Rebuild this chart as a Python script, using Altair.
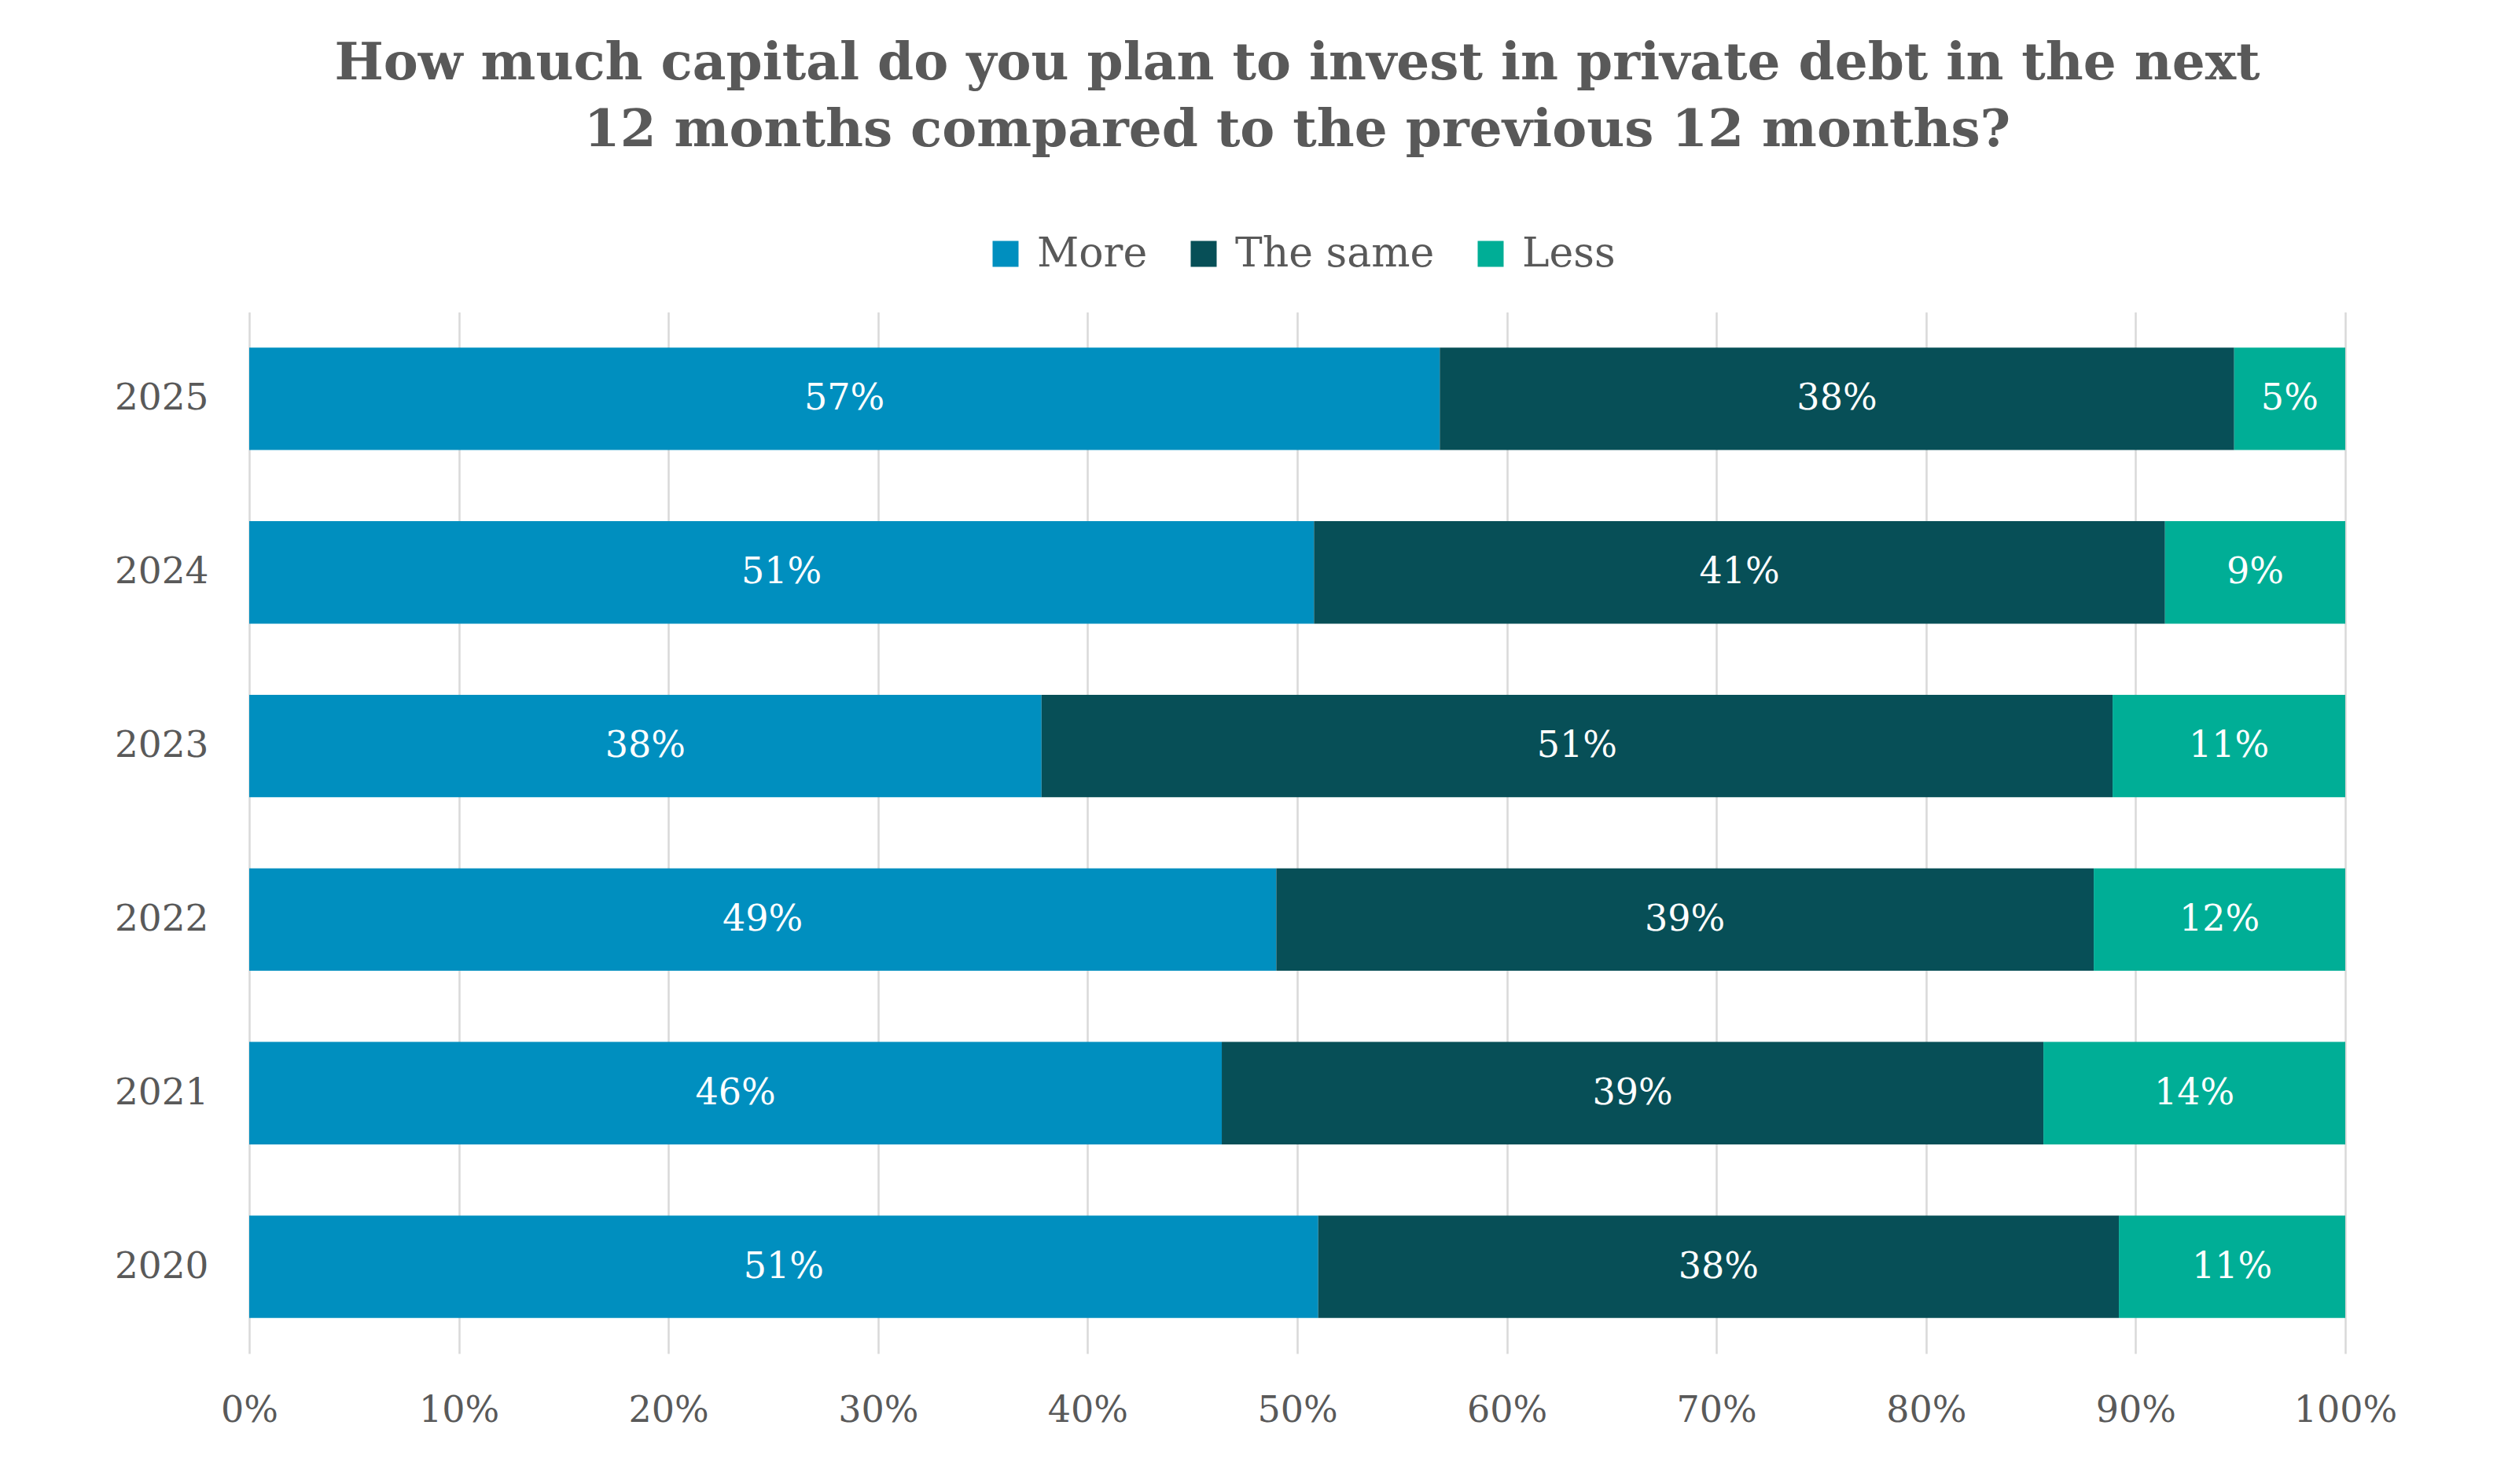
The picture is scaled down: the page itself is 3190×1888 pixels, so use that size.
import altair as alt
import pandas as pd

years = ["2025", "2024", "2023", "2022", "2021", "2020"]
categories = ["More", "The same", "Less"]
more = [56.8, 50.8, 37.8, 49.0, 46.4, 51.0]
same = [37.9, 40.6, 51.1, 39.0, 39.2, 38.2]
less = [5.3, 8.6, 11.1, 12.0, 14.4, 10.8]
x_ticks = [0, 10, 20, 30, 40, 50, 60, 70, 80, 90, 100]
colors = ["#008FBF", "#074F57", "#00AE96"]
title_lines = [
    "How much capital do you plan to invest in private debt in the next",
    "12 months compared to the previous 12 months?",
]

FONT = "DejaVu Serif"
GREY = "#595959"

rows = []
for i, y in enumerate(years):
    for j, (cat, series) in enumerate(zip(categories, [more, same, less])):
        rows.append({"year": y, "category": cat, "value": series[i], "ord": j})
df = pd.DataFrame(rows)

base = alt.Chart(df)

bars = base.mark_bar().encode(
    x=alt.X(
        "value:Q",
        stack="zero",
        scale=alt.Scale(domain=[0, 100], nice=False),
        axis=alt.Axis(
            values=x_ticks,
            labelExpr="datum.value + '%'",
            title=None,
            domain=False,
            ticks=False,
            tickSize=0,
            grid=True,
            gridColor="#D9D9D9",
            gridWidth=2.5,
            labelFont=FONT,
            labelFontSize=46,
            labelColor=GREY,
            labelPadding=50,
            labelFlush=False,
        ),
    ),
    y=alt.Y(
        "year:N",
        sort=years,
        scale=alt.Scale(paddingInner=0.41, paddingOuter=0.205),
        axis=alt.Axis(
            title=None,
            domain=False,
            ticks=False,
            grid=False,
            tickSize=0,
            labelFont=FONT,
            labelFontSize=47,
            labelColor=GREY,
            labelPadding=52,
        ),
    ),
    color=alt.Color(
        "category:N",
        scale=alt.Scale(domain=categories, range=colors),
        legend=alt.Legend(
            title=None,
            orient="none",
            direction="horizontal",
            legendX=936,
            legendY=-100,
            symbolType="square",
            symbolSize=1089,
            symbolStrokeWidth=0,
            labelFont=FONT,
            labelFontSize=52,
            labelColor=GREY,
            labelOffset=14,
            labelLimit=1000,
            columnPadding=45,
        ),
    ),
    order=alt.Order("ord:Q"),
)

labels = (
    base.transform_stack(
        stack="value",
        groupby=["year"],
        sort=[alt.SortField("ord", order="ascending")],
        as_=["x0", "x1"],
    )
    .transform_calculate(
        mid="(datum.x0 + datum.x1) / 2",
        lbl="format(datum.value, '.0f') + '%'",
    )
    .mark_text(color="white", font=FONT, fontSize=46, baseline="middle", align="center")
    .encode(
        x=alt.X("mid:Q"),
        y=alt.Y("year:N", sort=years),
        text="lbl:N",
    )
)

chart = (
    alt.layer(bars, labels)
    .properties(
        width=2666,
        height=1325,
        padding={"left": 137, "top": 40, "right": 60, "bottom": 20},
        title=alt.TitleParams(
            title_lines,
            font=FONT,
            fontSize=66,
            fontWeight="bold",
            color=GREY,
            lineHeight=85,
            anchor="middle",
            offset=97,
        ),
    )
    .configure(background="white")
    .configure_view(stroke=None, strokeWidth=0)
    .configure_axisY(grid=False, domain=False)
)

chart.save("out.html", embed_options={"renderer": "svg", "actions": False})
